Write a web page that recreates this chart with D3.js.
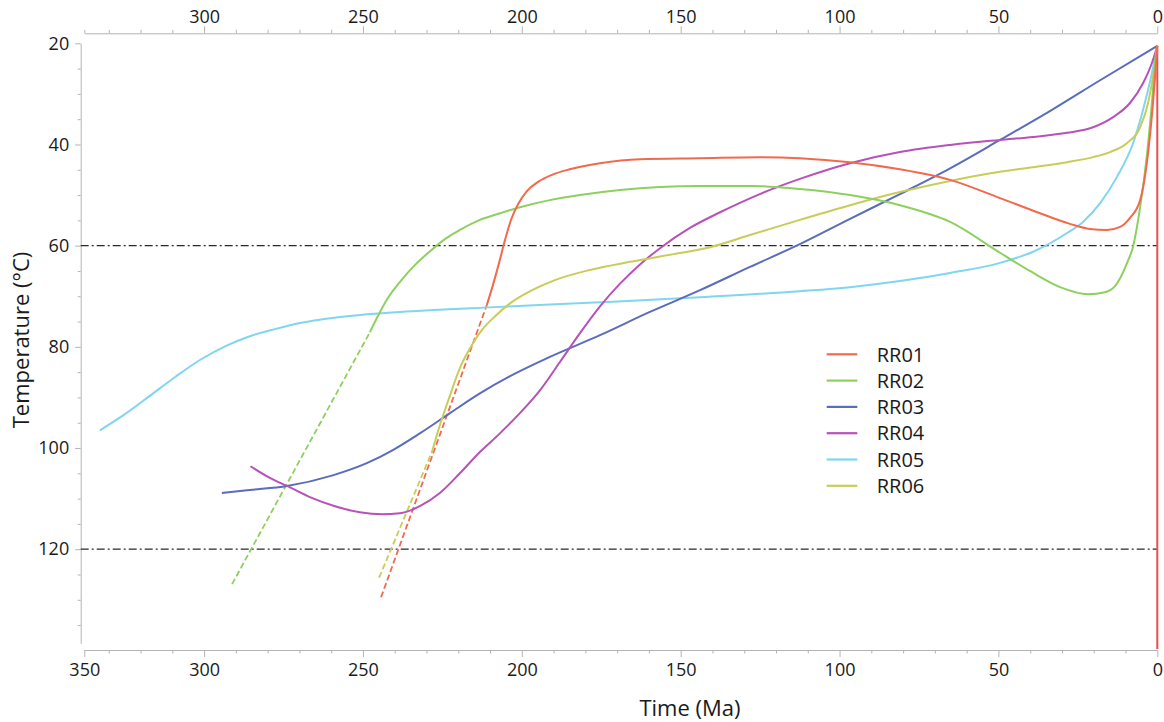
<!DOCTYPE html>
<html>
<head>
<meta charset="utf-8">
<script src="https://cdn.jsdelivr.net/npm/d3@7"></script>
<style>
  body { margin: 0; background: #fff; }
  text { font-family: "Open Sans", "Noto Sans", sans-serif; fill: #1a1a1a; }
</style>
</head>
<body>
<svg id="chart" width="1164" height="722"></svg>
<script>
// Thermal histories: [time (Ma), temperature (°C)]
const seriesNames  = ["RR01", "RR02", "RR03", "RR04", "RR05", "RR06"];
const seriesColors = ["#f26a4d", "#8ed060", "#5a6cbc", "#b652b8", "#7fd6ee", "#c8cc58"];

const rr01 = [
  [211.0, 71.7], [209.1, 67.8], [207.2, 63.5], [205.3, 58.9], [203.4, 54.9], [201.2, 51.8],
  [198.4, 49.2], [194.9, 47.4], [190.5, 46.0], [184.9, 44.9], [175.4, 43.7], [162.8, 42.9],
  [143.9, 42.7], [125.1, 42.5], [112.5, 42.7], [96.7, 43.5], [81.0, 44.9], [65.2, 47.0],
  [49.5, 50.6], [36.9, 53.6], [27.5, 55.7], [21.2, 56.7], [15.8, 56.9], [11.7, 56.3],
  [8.6, 54.5], [5.4, 51.0], [2.9, 41.7], [1.35, 31.8], [0.3, 23.3], [0, 20.5]
];
const rr02 = [
  [247.8, 77.1], [245.3, 73.9], [242.1, 70.3], [238.4, 67.2], [233.6, 63.8], [228.9, 61.1],
  [224.2, 58.7], [219.5, 56.9], [213.2, 54.9], [206.9, 53.6], [200.6, 52.4], [191.2, 51.0],
  [181.7, 50.0], [169.1, 49.0], [156.5, 48.4], [143.9, 48.2], [128.2, 48.2], [112.5, 48.8],
  [96.7, 50.0], [81.0, 52.0], [65.2, 55.3], [49.5, 61.4], [40.1, 65.0], [30.6, 68.2],
  [21.8, 69.6], [16.5, 69.2], [13.3, 68.0], [9.5, 63.4], [7.6, 60.1], [5.4, 52.4],
  [3.2, 41.7], [1.7, 31.8], [0.4, 21.9], [0, 20.5]
];
const rr03 = [
  [294.4, 108.9], [285.6, 108.3], [273.9, 107.5], [259.5, 105.4], [248.8, 103.0], [240.6, 100.4],
  [232.1, 97.1], [222.6, 93.1], [213.2, 89.2], [203.7, 85.8], [191.2, 82.0], [175.4, 77.7],
  [159.7, 73.1], [143.9, 68.8], [128.2, 64.2], [112.5, 59.7], [96.7, 54.7], [81.0, 49.8],
  [65.2, 44.7], [49.5, 39.1], [33.8, 33.4], [18.0, 27.3], [0, 20.5]
];
const rr04 = [
  [285.4, 103.6], [279.3, 105.9], [273.9, 107.5], [266.7, 109.7], [258.8, 111.5], [251.0, 112.7],
  [244.0, 113.1], [238.4, 112.9], [232.1, 111.5], [225.8, 108.9], [219.5, 105.0], [213.2, 100.8],
  [206.9, 97.1], [200.6, 93.1], [194.3, 88.6], [188.0, 83.0], [181.7, 77.3], [175.4, 72.0],
  [169.1, 67.5], [162.8, 63.7], [156.5, 60.5], [147.1, 56.5], [137.6, 53.4], [125.1, 49.8],
  [112.5, 46.8], [96.7, 43.7], [81.0, 41.5], [65.2, 40.1], [49.5, 39.1], [39.1, 38.5],
  [28.4, 37.7], [20.2, 36.6], [13.9, 34.6], [8.6, 31.8], [4.5, 27.9], [1.7, 23.9], [0, 20.5]
];
const rr05 = [
  [332.8, 96.5], [324.9, 93.3], [317.1, 89.7], [309.2, 86.0], [301.3, 82.6], [293.4, 79.9],
  [285.6, 77.9], [277.7, 76.5], [269.8, 75.3], [254.1, 73.9], [238.4, 73.1], [206.9, 72.1],
  [175.4, 71.2], [143.9, 70.2], [112.5, 69.0], [96.7, 68.2], [81.0, 67.0], [65.2, 65.4],
  [49.5, 63.4], [39.1, 61.2], [28.4, 57.5], [23.4, 55.3], [18.0, 51.6], [12.7, 46.4],
  [7.6, 39.7], [4.5, 33.2], [1.7, 25.9], [0, 20.5]
];
const rr06 = [
  [228.3, 100.8], [225.8, 95.5], [222.6, 89.6], [219.5, 84.2], [216.3, 80.3], [212.6, 76.7],
  [208.5, 74.0], [203.7, 71.4], [197.4, 69.0], [189.6, 66.8], [178.6, 64.8], [166.0, 63.2],
  [153.4, 61.8], [140.8, 60.3], [128.2, 57.9], [112.5, 54.9], [96.7, 52.0], [81.0, 49.4],
  [65.2, 47.2], [49.5, 45.4], [39.1, 44.5], [28.4, 43.5], [20.2, 42.5], [14.9, 41.5],
  [9.5, 39.7], [5.4, 36.6], [2.9, 31.8], [1.4, 26.7], [0, 20.5]
];

// Dashed extensions of the paths before the constrained part of each history
const rr01Extension = [[244.3, 129.5], [211.0, 71.7]];
const rr02Extension = [[291.2, 126.9], [247.8, 77.1]];
const rr06Extension = [[244.9, 125.6], [228.3, 100.8]];

const referenceTemps = [60, 120];

// Axis settings
const timeStart = 337.7;
const timeMajorTicks = [300, 250, 200, 150, 100, 50, 0];
const bottomTimeLabels = ["350", "300", "250", "200", "150", "100", "50", "0"];
const timeMinorTicks = d3.range(10, 340, 10).filter(v => v % 50 !== 0);
const tempMax = 138.6;
const tempMajorTicks = [20, 40, 60, 80, 100, 120];
const tempMinorTicks = d3.range(25, 140, 5).filter(v => v % 20 !== 0);

const svg = d3.select("#chart");
const axisColor = "#b4b4b4";

const x = d3.scaleLinear().domain([timeStart, 0]).range([84.3, 1157.3]);
const y = d3.scaleLinear().domain([20, tempMax]).range([43.3, 643.3]);

function styleAxis(g) {
  g.selectAll(".domain").attr("stroke", axisColor).attr("stroke-width", 1);
  g.selectAll(".tick line").attr("stroke", axisColor).attr("stroke-width", 1);
  g.selectAll(".tick text").attr("font-size", 18).attr("fill", "#1a1a1a")
    .attr("font-family", '"Open Sans", "Noto Sans", sans-serif');
}

// Bottom axis
const bottomY = 650;
svg.append("g").attr("transform", `translate(0,${bottomY})`)
  .call(d3.axisBottom(x).tickValues(timeMinorTicks).tickSize(3.5).tickSizeOuter(0).tickFormat(""))
  .call(styleAxis);
svg.append("g").attr("transform", `translate(0,${bottomY})`)
  .call(d3.axisBottom(x).tickValues([timeStart, ...timeMajorTicks]).tickSize(7).tickSizeOuter(0)
    .tickPadding(6).tickFormat((d, i) => bottomTimeLabels[i]))
  .call(styleAxis)
  .call(g => g.select(".domain").remove());

// Top axis
const topY = 33.3;
svg.append("g").attr("transform", `translate(0,${topY})`)
  .call(d3.axisTop(x).tickValues([timeStart, ...timeMinorTicks]).tickSize(3.5).tickSizeOuter(0).tickFormat(""))
  .call(styleAxis);
svg.append("g").attr("transform", `translate(0,${topY})`)
  .call(d3.axisTop(x).tickValues(timeMajorTicks).tickSize(7).tickSizeOuter(0).tickPadding(3)
    .tickFormat(d3.format("d")))
  .call(styleAxis)
  .call(g => g.select(".domain").remove());

// Left axis
const leftX = 80.7;
svg.append("g").attr("transform", `translate(${leftX},0)`)
  .call(d3.axisLeft(y).tickValues(tempMinorTicks).tickSize(3).tickSizeOuter(0).tickFormat(""))
  .call(styleAxis);
svg.append("g").attr("transform", `translate(${leftX},0)`)
  .call(d3.axisLeft(y).tickValues(tempMajorTicks).tickSize(5.5).tickSizeOuter(0).tickPadding(6)
    .tickFormat(d3.format("d")))
  .call(styleAxis)
  .call(g => g.select(".domain").remove());

// Axis titles
svg.append("text")
  .attr("x", 690).attr("y", 716)
  .attr("text-anchor", "middle")
  .attr("font-size", 22)
  .text("Time (Ma)");
svg.append("text")
  .attr("transform", "translate(29,340) rotate(-90)")
  .attr("text-anchor", "middle")
  .attr("font-size", 22)
  .text("Temperature (°C)");

// Reference temperatures
svg.append("g").selectAll("line")
  .data(referenceTemps)
  .join("line")
  .attr("x1", leftX).attr("x2", x(0))
  .attr("y1", d => y(d)).attr("y2", d => y(d))
  .attr("stroke", "#2a2a2a")
  .attr("stroke-width", 1.2)
  .attr("stroke-dasharray", "8,3,2,3");

// Present-day marker
svg.append("line")
  .attr("x1", x(0)).attr("x2", x(0))
  .attr("y1", y(20.5)).attr("y2", bottomY - 1)
  .attr("stroke", "#ef4a4f")
  .attr("stroke-width", 2);

const line = d3.line()
  .x(d => x(d[0]))
  .y(d => y(d[1]))
  .curve(d3.curveMonotoneX);

// Dashed extensions
const extensions = [
  { data: rr01Extension, color: seriesColors[0] },
  { data: rr02Extension, color: seriesColors[1] },
  { data: rr06Extension, color: seriesColors[5] }
];
svg.append("g").selectAll("path")
  .data(extensions)
  .join("path")
  .attr("d", d => line(d.data))
  .attr("fill", "none")
  .attr("stroke", d => d.color)
  .attr("stroke-width", 1.8)
  .attr("stroke-dasharray", "6,3");

// Thermal history paths
const histories = [rr05, rr03, rr04, rr06, rr02, rr01];
const historyColors = [seriesColors[4], seriesColors[2], seriesColors[3], seriesColors[5], seriesColors[1], seriesColors[0]];
svg.append("g").selectAll("path")
  .data(histories)
  .join("path")
  .attr("d", d => line(d))
  .attr("fill", "none")
  .attr("stroke", (d, i) => historyColors[i])
  .attr("stroke-width", 2)
  .attr("stroke-linejoin", "round");

// Legend
const legend = svg.append("g");
const legendRows = legend.selectAll("g")
  .data(seriesNames)
  .join("g")
  .attr("transform", (d, i) => `translate(0,${354.3 + i * 26.3})`);
legendRows.append("line")
  .attr("x1", 826.7).attr("x2", 857.3)
  .attr("stroke", (d, i) => seriesColors[i])
  .attr("stroke-width", 2.2);
legendRows.append("text")
  .attr("x", 876.7)
  .attr("dy", "0.36em")
  .attr("font-size", 20)
  .text(d => d);
</script>
</body>
</html>
